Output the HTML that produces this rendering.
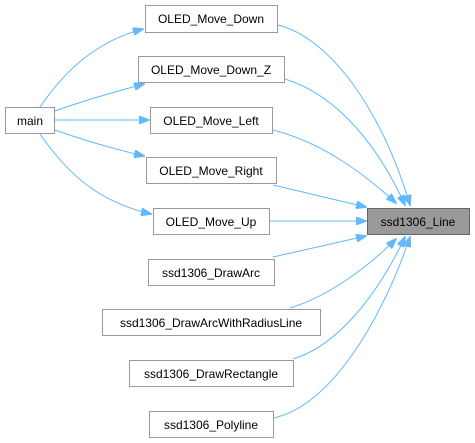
<!DOCTYPE html>
<html><head><style>
body{margin:0;background:#fff;}
svg{display:block;font-family:"Liberation Sans",sans-serif;}
text{font-size:12px;fill:#000;text-anchor:middle;}
rect{fill:#fff;stroke:#999;stroke-width:1;}
path{fill:none;stroke:#63b8ff;stroke-width:1;}
</style></head><body>
<svg width="475" height="443" viewBox="0 0 475 443">
<defs><marker id="a" markerWidth="11" markerHeight="8" refX="10" refY="4" orient="auto" markerUnits="userSpaceOnUse"><polygon points="0,0 11,4 0,8" fill="#63b8ff" stroke="#63b8ff"/></marker></defs>
<path d="M40,107 C60,78 90,43 143,29" marker-end="url(#a)"/>
<path d="M55,111 C80,102 110,93 144,84" marker-end="url(#a)"/>
<path d="M55,120 L149,120" marker-end="url(#a)"/>
<path d="M55,130 C80,139 110,148 144,156" marker-end="url(#a)"/>
<path d="M40,134 C65,170 95,201 151,214" marker-end="url(#a)"/>
<path d="M278,25 C330,38 382,110 410,205" marker-end="url(#a)"/>
<path d="M285,79 C340,96 380,150 405,205" marker-end="url(#a)"/>
<path d="M273,130 C320,142 360,170 396,203" marker-end="url(#a)"/>
<path d="M273,185 L366,207" marker-end="url(#a)"/>
<path d="M270,221 L366,221" marker-end="url(#a)"/>
<path d="M273,257 L366,236" marker-end="url(#a)"/>
<path d="M290,308 C330,296 370,265 396,239" marker-end="url(#a)"/>
<path d="M293,359 C340,345 380,290 405,237" marker-end="url(#a)"/>
<path d="M273,418 C330,407 382,320 410,237" marker-end="url(#a)"/>
<rect x="145.5" y="5.5" width="132" height="27"/><text x="211" y="23">OLED_Move_Down</text>
<rect x="138.5" y="56.5" width="146" height="26"/><text x="211" y="74">OLED_Move_Down_Z</text>
<rect x="5.5" y="107.5" width="49" height="26"/><text x="30" y="125">main</text>
<rect x="150.5" y="107.5" width="122" height="26"/><text x="211" y="125">OLED_Move_Left</text>
<rect x="146.5" y="157.5" width="130" height="26"/><text x="211" y="175">OLED_Move_Right</text>
<rect x="153.5" y="208.5" width="116" height="26"/><text x="211" y="226">OLED_Move_Up</text>
<rect x="367.5" y="208.5" width="102" height="26" style="fill:#999;stroke:#666"/><text x="418" y="226">ssd1306_Line</text>
<rect x="148.5" y="259.5" width="126" height="26"/><text x="211" y="277">ssd1306_DrawArc</text>
<rect x="102.5" y="309.5" width="218" height="26"/><text x="211" y="327">ssd1306_DrawArcWithRadiusLine</text>
<rect x="129.5" y="360.5" width="164" height="26"/><text x="211" y="378">ssd1306_DrawRectangle</text>
<rect x="149.5" y="411.5" width="124" height="26"/><text x="211" y="429">ssd1306_Polyline</text>
</svg>
</body></html>
